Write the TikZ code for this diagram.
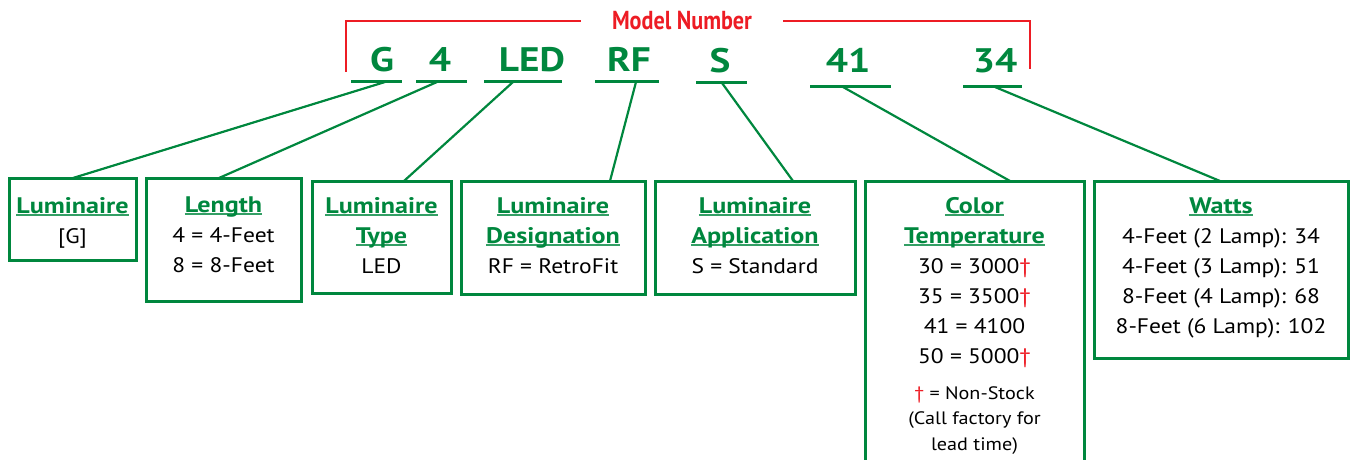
\documentclass[tikz,border=0pt]{standalone}
\usepackage{fontspec}
\setmainfont{PT Sans}[FakeStretch=1.12]
\newfontfamily\hdfont{PT Sans}[FakeStretch=1.16]
\usepackage{graphicx}
\definecolor{mgreen}{RGB}{0,135,62}
\definecolor{mred}{RGB}{237,28,36}
\newlength\ulw
\newcommand\ulhead[1]{\settowidth\ulw{#1}\makebox[0pt][l]{\textcolor{mgreen!80}{\rule[-3pt]{\ulw}{1.8pt}}}#1}
\newcommand\hd[1]{{\fontsize{22.5}{30}\hdfont\bfseries\color{mgreen}\ulhead{#1}}}
\newcommand\topst{\rule{0pt}{18pt}}
\newcommand\topsm{\rule{0pt}{15pt}}
\newcommand\dg{\textcolor{mred}{†}}
\newcommand\cd[1]{\scalebox{1.03}[1]{#1}}
\tikzset{
  box/.style={draw=mgreen, line width=3pt, outer sep=0pt, inner sep=0pt, anchor=north west},
  txt/.style={align=center, inner sep=0pt, anchor=north, font=\fontsize{21}{30}\selectfont},
  note/.style={align=center, inner sep=0pt, anchor=north, font=\fontsize{18}{25.5}\selectfont},
  code/.style={font=\fontsize{34}{34}\selectfont\bfseries, text=mgreen, anchor=base, inner sep=0pt},
  uline/.style={draw=mgreen, line width=3pt},
  conn/.style={draw=mgreen, line width=2.2pt},
  redline/.style={draw=mred, line width=2.6pt},
}
\begin{document}
\begin{tikzpicture}[x=1pt,y=-1pt]
\useasboundingbox (0,0) rectangle (1350,460);
% Model number bracket
\node[font=\fontsize{26}{26}\selectfont\bfseries, text=mred, text height=18pt, text depth=0pt, inner ysep=0pt, inner xsep=31pt] (mn) at (682,21) {\resizebox{140pt}{\height}{Model Number}};
\coordinate (brL) at (346,72);
\coordinate (brR) at (1030,69);
\draw[redline] (brL) |- (mn.west);
\draw[redline] (mn.east) -| (brR);
% code letters
\node[code] (cG) at (382,72) {\cd{G}};
\node[code] (c4) at (440,72) {\cd{4}};
\node[code] (cLED) at (532,72) {\cd{LED}};
\node[code] (cRF) at (629,72) {\cd{RF}};
\node[code] (cS) at (720,73) {\cd{S}};
\node[code] (c41) at (848,73) {\cd{41}};
\node[code] (c34) at (995,73) {\cd{34}};
% underlines
\draw[uline] (351,82) -- (402,82);
\draw[uline] (416,82) -- (467,82);
\draw[uline] (484,82) -- (562,82);
\draw[uline] (595,82) -- (659,82);
\draw[uline] (696,83) -- (747,83);
\draw[uline] (810,87) -- (891,87);
\draw[uline] (963,87) -- (1022,87);
\coordinate (uG) at (385,82);
\coordinate (u4) at (437,82);
\coordinate (uLED) at (513,82);
\coordinate (uRF) at (636,82);
\coordinate (uS) at (722,83);
\coordinate (u41) at (843,87);
\coordinate (u34) at (995,87);
% boxes
\node[box, minimum width=127, minimum height=82] (b1) at (9,178) {};
\node[box, minimum width=155, minimum height=123] (b2) at (146,178) {};
\node[box, minimum width=139, minimum height=112] (b3) at (312,181) {};
\node[box, minimum width=184, minimum height=113] (b4) at (461,181) {};
\node[box, minimum width=200, minimum height=113] (b5) at (655,181) {};
\begin{scope}
\clip (0,0) rectangle (1350,460);
\node[box, minimum width=219, minimum height=320] (b6) at (865,181) {};
\end{scope}
\node[box, minimum width=254, minimum height=177] (b7) at (1094,181) {};
% texts
\node[txt] (t1) at (72.5,195) {\topst\hd{Luminaire}\\{}[G]};
\node[txt] (t2) at (223.5,194) {\topst\hd{Length}\\4 = 4-Feet\\8 = 8-Feet};
\node[txt] (t3) at (381.5,195) {\topst\hd{Luminaire}\\\hd{Type}\\LED};
\node[txt] (t4) at (553,195) {\topst\hd{Luminaire}\\\hd{Designation}\\RF = RetroFit};
\node[txt] (t5) at (755,195) {\topst\hd{Luminaire}\\\hd{Application}\\S = Standard};
\node[txt] (t6) at (974.5,195) {\topst\hd{Color}\\\hd{Temperature}\\30 = 3000\dg\\35 = 3500\dg\\41 = 4100\\50 = 5000\dg};
\node[note] (n6) at (974.5,384) {\topsm\dg\ = Non-Stock\\(Call factory for\\lead time)};
\node[txt] (t7) at (1221,195) {\topst\hd{Watts}\\4-Feet (2 Lamp): 34\\4-Feet (3 Lamp): 51\\8-Feet (4 Lamp): 68\\8-Feet (6 Lamp): 102};
% connectors
\draw[conn] (uG) -- ([xshift=64pt]b1.north west);
\draw[conn] (u4) -- ([xshift=73pt]b2.north west);
\draw[conn] (uLED) -- ([xshift=92pt]b3.north west);
\draw[conn] (uRF) -- ([xshift=149pt]b4.north west);
\draw[conn] (uS) -- ([xshift=138pt]b5.north west);
\draw[conn] (u41) -- ([xshift=145pt]b6.north west);
\draw[conn] (u34) -- ([xshift=126pt]b7.north west);
\end{tikzpicture}
\end{document}
